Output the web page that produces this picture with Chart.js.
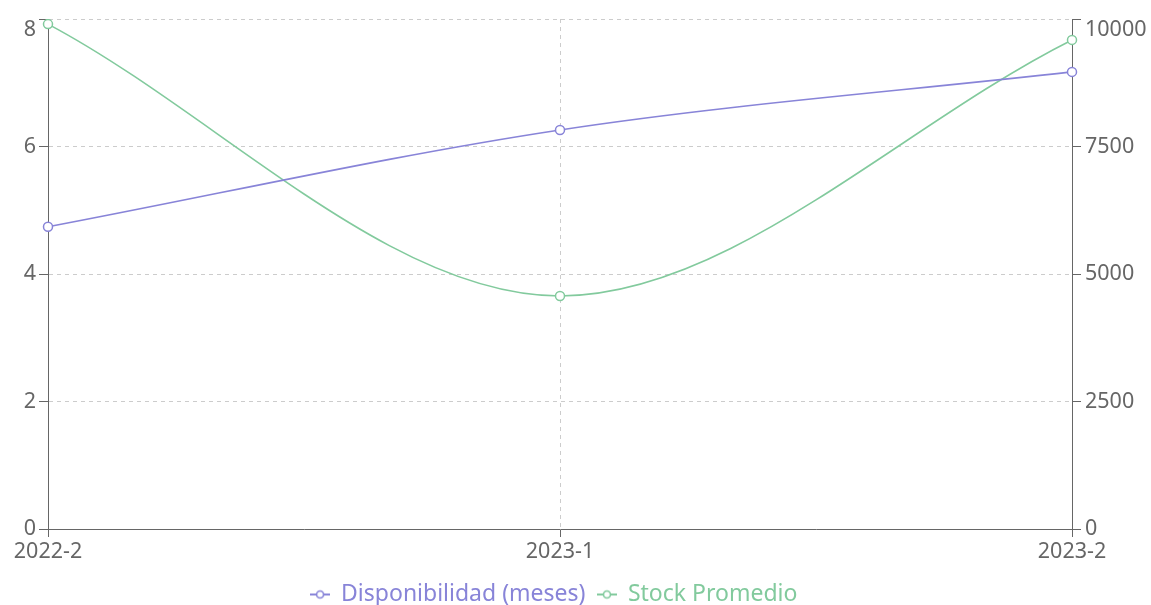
<!DOCTYPE html>
<html>
<head>
<meta charset="utf-8">
<script src="https://cdn.jsdelivr.net/npm/chart.js@4/dist/chart.umd.min.js"></script>
<style>
html,body{margin:0;padding:0;background:#fff;overflow:hidden;}
#wrap{width:1151px;height:605px;position:relative;overflow:hidden;}
</style>
</head>
<body>
<div id="wrap"><canvas id="c" width="1151" height="616"></canvas></div>
<script>
const categories = ['2022-2', '2023-1', '2023-2'];
const disponibilidad = [4.74, 6.26, 7.17];
const stockPromedio = [9900, 4570, 9590];
const leftMax = 8, leftStep = 2;
const rightMax = 10000, rightStep = 2500;

const PURPLE = '#8884d8', GREEN = '#82ca9d';
const FONT = '"Noto Sans", sans-serif';
const TICK_FS = 21.5;
const LEGEND_FS = 23;

function legendIcon(color) {
  const c = document.createElement('canvas');
  c.width = 20; c.height = 12;
  const x = c.getContext('2d');
  x.strokeStyle = color; x.lineWidth = 2;
  x.beginPath(); x.moveTo(0, 6); x.lineTo(20, 6); x.stroke();
  x.fillStyle = '#fff'; x.lineWidth = 1.6;
  x.beginPath(); x.arc(10, 6, 3.5, 0, Math.PI * 2); x.fill(); x.stroke();
  return c;
}

// centre the legend under the region left of the right axis labels
const legendShift = {
  id: 'legendShift',
  afterLayout(chart) {
    const lg = chart.legend;
    if (lg) { lg.right -= 43; lg.width -= 43; }
  }
};

// top tick label sits just below its tick (drawn as a second line)
const topLabel = max => (v => v === max ? ['', String(v)] : String(v));
const fitY = w => (s => { s.width = w; s.paddingTop = 0; s.paddingBottom = 0; });

new Chart(document.getElementById('c'), {
  type: 'line',
  plugins: [legendShift],
  data: {
    labels: categories,
    datasets: [
      { label: 'Disponibilidad (meses)', data: disponibilidad, yAxisID: 'yL',
        borderColor: PURPLE, backgroundColor: '#fff', borderWidth: 1.6,
        pointRadius: 4.5, pointBorderWidth: 1.5, pointBackgroundColor: '#fff', pointBorderColor: PURPLE,
        cubicInterpolationMode: 'monotone', fill: false },
      { label: 'Stock Promedio', data: stockPromedio, yAxisID: 'yR',
        borderColor: GREEN, backgroundColor: '#fff', borderWidth: 1.6,
        pointRadius: 4.5, pointBorderWidth: 1.5, pointBackgroundColor: '#fff', pointBorderColor: GREEN,
        cubicInterpolationMode: 'monotone', fill: false }
    ]
  },
  options: {
    responsive: false,
    animation: false,
    layout: { padding: { top: 19, left: 0, right: 0, bottom: 0 } },
    scales: {
      x: {
        offset: false,
        grid: { color: '#ccc', tickColor: '#666', tickLength: 8, tickBorderDash: [] },
        border: { color: '#666', width: 1, dash: [4, 4] },
        ticks: { color: '#666', font: { family: FONT, size: TICK_FS }, padding: 2, maxRotation: 0 },
        afterFit: s => { s.height = 42; }
      },
      yL: {
        position: 'left', min: 0, max: leftMax,
        grid: { color: '#ccc', tickColor: '#666', tickLength: 9, tickBorderDash: [] },
        border: { color: '#666', width: 1, dash: [4, 4] },
        ticks: { stepSize: leftStep, color: '#666', font: { family: FONT, size: TICK_FS, lineHeight: 1.02 },
                 padding: 3, callback: topLabel(leftMax) },
        afterFit: fitY(48)
      },
      yR: {
        position: 'right', min: 0, max: rightMax,
        grid: { drawOnChartArea: false, color: '#666', tickColor: '#666', tickLength: 9 },
        border: { color: '#666', width: 1 },
        ticks: { stepSize: rightStep, color: '#666', font: { family: FONT, size: TICK_FS, lineHeight: 1.02 },
                 padding: 4, callback: topLabel(rightMax) },
        afterFit: fitY(79)
      }
    },
    plugins: {
      tooltip: { enabled: false },
      legend: {
        position: 'bottom',
        labels: {
          usePointStyle: true, pointStyleWidth: 19, boxWidth: 19, boxHeight: 12,
          padding: 12,
          font: { family: FONT, size: LEGEND_FS },
          generateLabels: chart => {
            const items = Chart.defaults.plugins.legend.labels.generateLabels(chart);
            items.forEach((it, i) => {
              const col = chart.data.datasets[i].borderColor;
              it.pointStyle = legendIcon(col);
              it.fontColor = col;
            });
            return items;
          }
        }
      }
    }
  }
});
</script>
</body>
</html>
